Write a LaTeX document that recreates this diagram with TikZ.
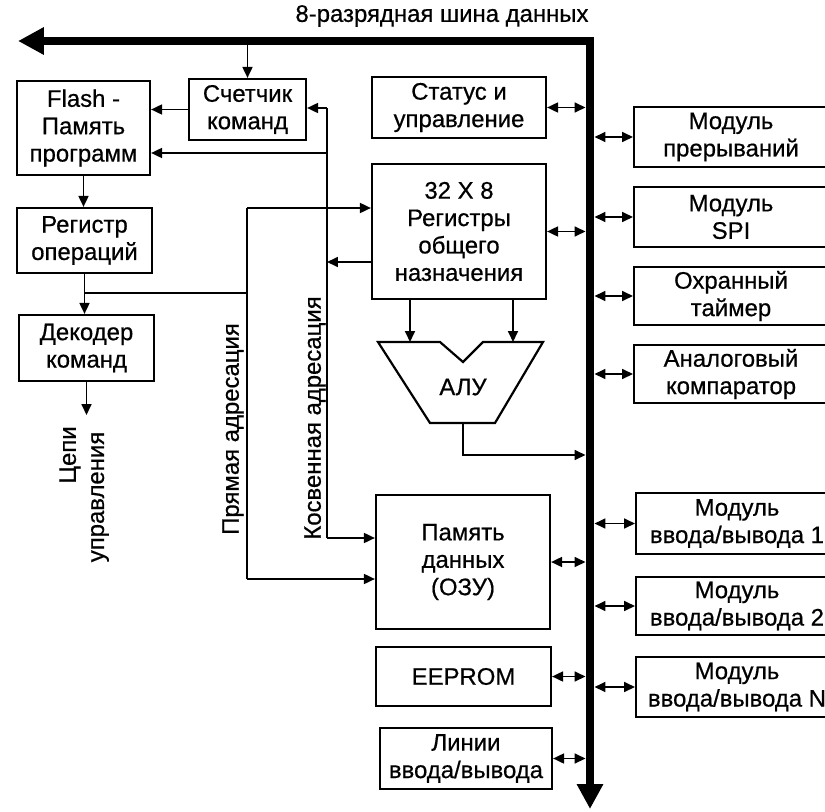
\documentclass[tikz,border=0pt]{standalone}
\usepackage{fontspec}
\setmainfont{Liberation Sans}[FakeBold=0.6]
\usetikzlibrary{arrows.meta}
\begin{document}
\begin{tikzpicture}[x=1bp,y=-1bp,
  txt/.style={font=\fontsize{24}{27.5}\selectfont},
  box/.style={draw, line width=2.2pt, align=center, inner sep=0pt, txt},
  wire/.style={line width=1.8pt},
  conn/.style={wire, -{Triangle[length=11pt,width=10pt]}},
  bi/.style={wire, {Triangle[length=11pt,width=10pt]}-{Triangle[length=11pt,width=10pt]}},
  bus/.style={line width=8.5pt, line join=miter, {Triangle[length=26pt,width=26pt]}-{Triangle[length=25pt,width=25pt]}},
  lbl/.style={txt, inner sep=0pt},
  modbox/.style={draw, line width=2.2pt, inner sep=0pt, anchor=west, minimum width=240bp},
]
\useasboundingbox (0,0) rectangle (825,812);
\clip (0,0) rectangle (825,812);

% data bus
\coordinate (busL) at (18,41);
\coordinate (busC) at (590,41);
\coordinate (busB) at (590,809);
\coordinate (busTop) at (0,45.5);
\coordinate (busLft) at (585.5,0);
\coordinate (busRgt) at (594.5,0);
\draw[bus] (busL) -- (busC) -- (busB);
\node[lbl] (busLabel) at (442,16) {8-разрядная шина данных};

% left column
\node[box, minimum width=133bp, minimum height=94bp] (flash) at (83.5,128) {Flash -\\Память\\программ};
\node[box, minimum width=117bp, minimum height=61bp] (pc) at (247.5,109.5) {Счетчик\\команд};
\node[box, minimum width=135bp, minimum height=65bp] (opreg) at (84.5,240.5) {Регистр\\операций};
\node[box, minimum width=135bp, minimum height=66bp] (dec) at (86.5,348) {Декодер\\команд};

% middle column
\node[box, minimum width=174bp, minimum height=61bp] (status) at (459,107.5) {Статус и\\управление};
\node[box, minimum width=174bp, minimum height=135bp] (regs) at (459,231.5) {32 X 8\\Регистры\\общего\\назначения};
\node[box, minimum width=174bp, minimum height=134bp] (ram) at (463,562) {Память\\данных\\(ОЗУ)};
\node[box, minimum width=175bp, minimum height=59bp] (eeprom) at (463.5,676.5) {EEPROM};
\node[box, minimum width=172bp, minimum height=61bp] (lines) at (466,758.5) {Линии\\ввода/вывода};

% ALU
\draw[line width=2.2pt, line join=miter]
  (378,342) -- (440,342) -- (463,362) -- (483,342) -- (543,342) -- (495,423) -- (430,423) -- cycle;
\node[lbl] (alu) at (463,387) {АЛУ};

% peripheral modules: frames run past the right edge, captions centred on their own
\node[modbox, minimum height=60bp] (irq) at (633,137) {};
\node[modbox, minimum height=60bp] (spi) at (633,217) {};
\node[modbox, minimum height=58bp] (wdt) at (633,296) {};
\node[modbox, minimum height=58bp] (cmp) at (633,374) {};
\node[modbox, minimum height=61bp] (io1) at (635,523.5) {};
\node[modbox, minimum height=58bp] (io2) at (635,606) {};
\node[modbox, minimum height=60bp] (ioN) at (635,687) {};
\node[lbl, align=center] (irqT) at (731,137) {Модуль\\прерываний};
\node[lbl, align=center] (spiT) at (731,217) {Модуль\\SPI};
\node[lbl, align=center] (wdtT) at (731,296) {Охранный\\таймер};
\node[lbl, align=center] (cmpT) at (731,374) {Аналоговый\\компаратор};
\node[lbl, align=center] (io1T) at (737,523.5) {Модуль\\ввода/вывода 1};
\node[lbl, align=center] (io2T) at (737,606) {Модуль\\ввода/вывода 2};
\node[lbl, align=center] (ioNT) at (737,687) {Модуль\\ввода/вывода N};

% bus links
\draw[bi] (status.east) -- (status.east -| busLft);
\draw[bi] (regs.east) -- (regs.east -| busLft);
\draw[bi] (ram.east) -- (ram.east -| busLft);
\draw[bi] (eeprom.east) -- (eeprom.east -| busLft);
\draw[bi] (lines.east) -- (lines.east -| busLft);
\foreach \m in {irq,spi,wdt,cmp,io1,io2,ioN}
  \draw[bi] (\m.west -| busRgt) -- (\m.west);

% instruction path
\draw[conn] (pc.north |- busTop) -- (pc.north);
\draw[conn] (pc.west) -- (pc.west -| flash.east);
\draw[conn] (flash.south) -- (flash.south |- opreg.north);
\draw[conn] (opreg.south) -- (opreg.south |- dec.north);
\coordinate (ctl) at (86.5,415);
\draw[conn] (dec.south) -- (ctl);

% direct addressing
\coordinate (dJ) at (84.5,293);
\coordinate (dM) at (247,293);
\coordinate (dT) at (247,208);
\coordinate (dB) at (247,579);
\draw[wire] (dJ) -- (dM);
\draw[wire] (dT) -- (dB);
\draw[conn] (dT) -- (dT -| regs.west);
\draw[conn] (dB) -- (dB -| ram.west);

% indirect addressing
\coordinate (kT) at (327,108);
\coordinate (kF) at (327,153);
\coordinate (kR) at (327,262);
\coordinate (kB) at (327,538);
\draw[wire] (kT) -- (kB);
\draw[conn] (kT) -- (kT -| pc.east);
\draw[conn] (kF) -- (kF -| flash.east);
\draw[conn] (kR -| regs.west) -- (kR);
\draw[conn] (kB) -- (kB -| ram.west);

% ALU operands and result
\coordinate (aL) at (410,342);
\coordinate (aR) at (513,342);
\draw[conn] (aL |- regs.south) -- (aL);
\draw[conn] (aR |- regs.south) -- (aR);
\coordinate (aO) at (463,423);
\coordinate (aK) at (463,455);
\draw[conn] (aO) -- (aK) -- (aK -| busLft);

% rotated labels
\node[lbl, rotate=90] (lblDirect) at (233,429) {Прямая адресация};
\node[lbl, rotate=90] (lblIndirect) at (315,418) {Косвенная адресация};
\node[lbl, rotate=90] (lblCtlA) at (70,455) {Цепи};
\node[lbl, rotate=90] (lblCtlB) at (100,497) {управления};
\end{tikzpicture}
\end{document}
